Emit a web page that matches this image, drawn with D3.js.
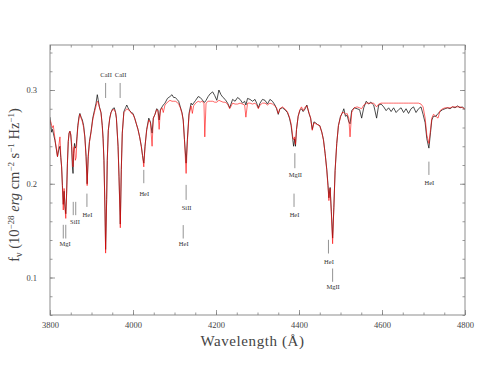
<!DOCTYPE html>
<html>
<head>
<meta charset="utf-8">
<script src="https://cdn.jsdelivr.net/npm/d3@7"></script>
<style>
  html, body { margin: 0; padding: 0; background: #fff; }
  svg { display: block; }
  text { font-family: "Liberation Serif", "DejaVu Serif", serif; }
</style>
</head>
<body>
<div id="chart"></div>
<script>
// ---------------- data ----------------
const wavelength = [
  3800,3802,3804,3806,3808,3810,3812,3815,3818,3821,3824,3826,3828,3830,3832,3834,3836,3838,3840,3842,
  3844,3846,3848,3850,3852,3854,3855.5,3857,3859,3861,3863,3865,3867,3870,3872,3875,3878,3881,3884,3887,
  3889.5,3892,3895,3899,3903,3907,3911,3914,3916,3919,3923,3926,3928,3930,3932.5,3934,3936.5,3938,3940.5,3944,
  3947,3951,3955,3958,3960,3964,3966.3,3969.4,3971.8,3974.2,3978,3982,3985,3988,3992,3996,4000,4004,4008,4012,
  4016,4020,4023,4026,4029,4033,4038,4042,4046,4049,4053,4057,4060,4063,4066,4070,4073,4077,4083,4089,
  4094,4098,4102,4106,4110,4114,4118,4121,4124,4128,4131,4135,4140,4143,4146,4151,4157,4162,4166,4171,
  4173,4176,4181,4186,4192,4197,4202,4207,4212,4217,4222,4228,4233,4240,4246,4252,4258,4264,4269,4272,
  4276,4282,4288,4294,4298,4302,4306,4312,4318,4324,4330,4336,4342,4346,4350,4354,4360,4366,4372,4377,
  4381,4385,4387,4389.5,4391.5,4394,4398,4402,4406,4410,4415,4419,4424,4428,4432,4436,4440,4445,4450,4455,
  4459,4463,4467,4470,4472,4475,4478,4481,4484,4487,4491,4495,4500,4504,4508,4512,4516,4520,4523,4527,
  4533,4540,4546,4551,4556,4562,4568,4573,4580,4587,4592,4598,4604,4610,4616,4622,4628,4634,4640,4646,
  4652,4658,4664,4670,4676,4682,4688,4694,4699,4704,4708,4713,4717,4720,4724,4730,4735,4740,4746,4752,
  4758,4764,4770,4776,4782,4788,4794,4800
];
const fluxObserved = [
  0.271,0.262,0.255,0.258,0.254,0.250,0.246,0.238,0.229,0.236,0.240,0.228,0.218,0.198,0.178,0.192,0.176,0.168,0.190,0.222,
  0.245,0.254,0.256,0.252,0.240,0.218,0.211,0.232,0.243,0.238,0.240,0.250,0.262,0.272,0.275,0.271,0.268,0.262,0.250,0.229,
  0.200,0.229,0.245,0.256,0.270,0.278,0.286,0.295,0.290,0.282,0.276,0.262,0.248,0.225,0.172,0.130,0.183,0.225,0.257,0.270,
  0.276,0.280,0.281,0.276,0.270,0.240,0.208,0.157,0.215,0.254,0.277,0.281,0.284,0.281,0.278,0.276,0.275,0.270,0.264,0.258,
  0.250,0.240,0.230,0.222,0.240,0.258,0.270,0.266,0.254,0.270,0.274,0.280,0.279,0.268,0.279,0.282,0.284,0.286,0.291,0.293,
  0.295,0.292,0.292,0.290,0.288,0.282,0.276,0.268,0.247,0.222,0.247,0.275,0.286,0.284,0.286,0.289,0.293,0.292,0.290,0.287,
  0.287,0.289,0.293,0.296,0.298,0.294,0.289,0.300,0.295,0.292,0.290,0.286,0.281,0.290,0.288,0.292,0.290,0.286,0.288,0.284,
  0.291,0.290,0.288,0.290,0.286,0.281,0.286,0.290,0.289,0.285,0.290,0.288,0.284,0.280,0.274,0.280,0.281,0.279,0.276,0.270,
  0.262,0.247,0.240,0.248,0.240,0.258,0.272,0.278,0.280,0.277,0.280,0.284,0.275,0.270,0.258,0.266,0.265,0.263,0.262,0.255,
  0.247,0.232,0.215,0.198,0.185,0.196,0.170,0.142,0.175,0.214,0.243,0.262,0.272,0.275,0.280,0.272,0.273,0.266,0.264,0.278,
  0.281,0.280,0.279,0.270,0.281,0.288,0.285,0.287,0.284,0.270,0.284,0.285,0.282,0.278,0.281,0.277,0.281,0.276,0.279,0.281,
  0.276,0.280,0.275,0.280,0.282,0.276,0.280,0.282,0.274,0.265,0.248,0.238,0.255,0.268,0.272,0.272,0.275,0.277,0.279,0.280,
  0.281,0.280,0.282,0.281,0.283,0.281,0.282,0.279
];
const fluxModel = [
  0.268,0.266,0.262,0.260,0.262,0.255,0.248,0.238,0.229,0.240,0.250,0.230,0.218,0.195,0.172,0.195,0.175,0.163,0.188,0.222,
  0.245,0.254,0.256,0.253,0.244,0.225,0.218,0.238,0.240,0.225,0.228,0.248,0.260,0.270,0.274,0.270,0.266,0.260,0.249,0.228,
  0.198,0.227,0.244,0.255,0.268,0.276,0.283,0.288,0.287,0.282,0.275,0.261,0.247,0.225,0.170,0.126,0.183,0.225,0.257,0.270,
  0.276,0.279,0.279,0.276,0.270,0.240,0.207,0.153,0.215,0.254,0.276,0.278,0.280,0.279,0.278,0.275,0.274,0.270,0.264,0.258,
  0.250,0.240,0.230,0.218,0.240,0.257,0.268,0.265,0.240,0.270,0.274,0.279,0.278,0.258,0.278,0.281,0.276,0.284,0.287,0.289,
  0.288,0.288,0.288,0.287,0.285,0.281,0.275,0.268,0.247,0.211,0.245,0.273,0.283,0.275,0.283,0.286,0.288,0.287,0.288,0.286,
  0.250,0.286,0.288,0.288,0.288,0.287,0.287,0.289,0.288,0.287,0.287,0.285,0.280,0.286,0.285,0.285,0.286,0.285,0.284,0.271,
  0.286,0.286,0.285,0.286,0.284,0.280,0.284,0.286,0.286,0.284,0.286,0.285,0.283,0.281,0.275,0.280,0.282,0.280,0.277,0.271,
  0.264,0.250,0.247,0.250,0.242,0.258,0.272,0.279,0.282,0.278,0.282,0.283,0.276,0.270,0.257,0.265,0.264,0.263,0.262,0.255,
  0.246,0.232,0.214,0.196,0.182,0.195,0.168,0.136,0.175,0.214,0.243,0.262,0.271,0.276,0.276,0.274,0.275,0.270,0.250,0.276,
  0.281,0.282,0.281,0.280,0.284,0.286,0.286,0.286,0.286,0.282,0.285,0.286,0.286,0.286,0.286,0.286,0.286,0.286,0.286,0.286,
  0.286,0.286,0.286,0.286,0.286,0.286,0.286,0.285,0.282,0.270,0.252,0.243,0.258,0.270,0.274,0.272,0.270,0.278,0.280,0.281,
  0.281,0.281,0.282,0.282,0.282,0.282,0.281,0.280
];

const xTickLabels = [3800, 4000, 4200, 4400, 4600, 4800];
const yTickLabels = [0.1, 0.2, 0.3];

// identified absorption lines
const lineIds     = ["CaII","CaII","MgI","SiII","HeI","HeI","SiII","HeI","MgII","HeI","HeI","MgII","HeI"];
const lineWaves   = [[3934],[3969],[3832,3838],[3856,3862],[3889],[4026],[4128],[4121],[4390],[4388],[4471],[4481],[4713]];
const markTop     = [0.3075,0.3075,0.1562,0.1807,0.1895,0.2148,0.1988,0.1559,0.2326,0.1895,0.1402,0.1096,0.2236];
const markBottom  = [0.2915,0.2915,0.1416,0.1665,0.1753,0.2006,0.1828,0.1416,0.2166,0.1753,0.1256,0.0954,0.2094];
const labelFlux   = [0.3139,0.3139,0.1338,0.1567,0.1647,0.1871,0.1722,0.1338,0.2068,0.1647,0.1145,0.0874,0.1988];

// ---------------- drawing ----------------
const W = 500, H = 374;
const m = {left: 50, right: 35, top: 45, bottom: 59};
const pw = W - m.left - m.right, ph = H - m.top - m.bottom;

const svg = d3.select("#chart").append("svg").attr("width", W).attr("height", H);

const x = d3.scaleLinear().domain([3800, 4800]).range([m.left, m.left + pw]);
const y = d3.scaleLinear().domain([0.06, 0.348]).range([m.top + ph, m.top]);

svg.append("defs").append("clipPath").attr("id", "clip")
  .append("rect").attr("x", m.left).attr("y", m.top).attr("width", pw).attr("height", ph);

const frameColor = "#808080";

const obs = wavelength.map((w, i) => [w, fluxObserved[i]]);
const mod = wavelength.map((w, i) => [w, fluxModel[i]]);
const line = d3.line().x(d => x(d[0])).y(d => y(d[1]));

const plot = svg.append("g").attr("clip-path", "url(#clip)");
plot.append("path").datum(obs).attr("d", line)
  .attr("fill", "none").attr("stroke", "#111").attr("stroke-width", 0.75).attr("stroke-linejoin", "round");
plot.append("path").datum(mod).attr("d", line)
  .attr("fill", "none").attr("stroke", "#ff0000").attr("stroke-width", 0.6).attr("stroke-linejoin", "round");

// axes with inward ticks on all four sides
const xMinor = d3.range(3800, 4801, 50);
const yMinor = d3.range(6, 35, 2).map(v => v / 100);

function styleAxis(g) {
  g.select(".domain").remove();
  g.selectAll("line").attr("stroke", frameColor).attr("stroke-width", 0.8);
  g.selectAll("text").attr("fill", "#444").style("font-size", "8.5px")
    .style("font-family", "'Liberation Serif', serif");
}

svg.append("g").attr("transform", `translate(0,${m.top + ph})`)
  .call(d3.axisBottom(x).tickValues(xMinor).tickSize(-2.5).tickFormat("")).call(styleAxis);
svg.append("g").attr("transform", `translate(0,${m.top + ph})`)
  .call(d3.axisBottom(x).tickValues(xTickLabels).tickSize(-5).tickPadding(7).tickFormat(d3.format("d"))).call(styleAxis);
svg.append("g").attr("transform", `translate(0,${m.top})`)
  .call(d3.axisTop(x).tickValues(xMinor).tickSize(-2.5).tickFormat("")).call(styleAxis);
svg.append("g").attr("transform", `translate(0,${m.top})`)
  .call(d3.axisTop(x).tickValues(xTickLabels).tickSize(-5).tickFormat("")).call(styleAxis);

svg.append("g").attr("transform", `translate(${m.left},0)`)
  .call(d3.axisLeft(y).tickValues(yMinor).tickSize(-2.5).tickFormat("")).call(styleAxis);
svg.append("g").attr("transform", `translate(${m.left},0)`)
  .call(d3.axisLeft(y).tickValues(yTickLabels).tickSize(-5).tickPadding(13).tickFormat(d3.format(".1f"))).call(styleAxis);
svg.append("g").attr("transform", `translate(${m.left + pw},0)`)
  .call(d3.axisRight(y).tickValues(yMinor).tickSize(-2.5).tickFormat("")).call(styleAxis);
svg.append("g").attr("transform", `translate(${m.left + pw},0)`)
  .call(d3.axisRight(y).tickValues(yTickLabels).tickSize(-5).tickFormat("")).call(styleAxis);

svg.append("rect").attr("x", m.left).attr("y", m.top).attr("width", pw).attr("height", ph)
  .attr("fill", "none").attr("stroke", frameColor).attr("stroke-width", 0.9);

// line identifications
const ann = svg.append("g");
lineIds.forEach((id, i) => {
  lineWaves[i].forEach(w => {
    ann.append("line")
      .attr("x1", x(w)).attr("x2", x(w))
      .attr("y1", y(markTop[i])).attr("y2", y(markBottom[i]))
      .attr("stroke", "#777").attr("stroke-width", 0.8);
  });
  ann.append("text")
    .attr("x", x(d3.mean(lineWaves[i])) + 0.5)
    .attr("y", y(labelFlux[i]))
    .attr("text-anchor", "middle")
    .attr("fill", "#333")
    .style("font-size", "6.5px")
    .text(id);
});

// axis titles
svg.append("text")
  .attr("x", m.left + pw / 2 - 5).attr("y", 346)
  .attr("text-anchor", "middle").attr("fill", "#444")
  .style("font-size", "15px").style("letter-spacing", "0.6px")
  .text("Wavelength (Å)");

const yl = svg.append("text")
  .attr("transform", "translate(19,185) rotate(-90)")
  .attr("text-anchor", "middle").attr("fill", "#444")
  .style("font-size", "14.5px");
yl.append("tspan").text("f");
yl.append("tspan").attr("baseline-shift", "-25%").style("font-size", "10px").text("ν");
yl.append("tspan").text(" (10");
yl.append("tspan").attr("baseline-shift", "60%").style("font-size", "9px").text("−28");
yl.append("tspan").style("font-style", "italic").text(" erg");
yl.append("tspan").text(" cm");
yl.append("tspan").attr("baseline-shift", "60%").style("font-size", "9px").text("−2");
yl.append("tspan").text(" s");
yl.append("tspan").attr("baseline-shift", "60%").style("font-size", "9px").text("−1");
yl.append("tspan").text(" Hz");
yl.append("tspan").attr("baseline-shift", "60%").style("font-size", "9px").text("−1");
yl.append("tspan").text(")");
</script>
</body>
</html>
